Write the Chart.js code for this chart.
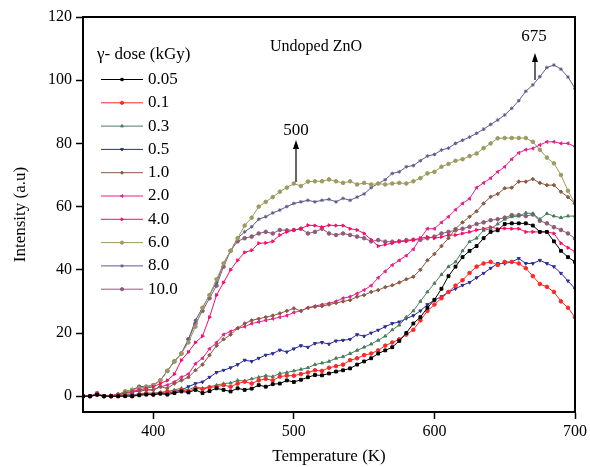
<!DOCTYPE html>
<html>
<head>
<meta charset="utf-8">
<script src="https://cdn.jsdelivr.net/npm/chart.js@4/dist/chart.umd.min.js"></script>
<style>
  body { margin: 0; background: #fff; }
  #box { width: 590px; height: 467px; }
</style>
</head>
<body>
<div id="box"><canvas id="myChart" width="590" height="467"></canvas></div>
<script>
// temperature (K)
var temps = [];
for (var t = 350; t <= 700; t += 5) temps.push(t);

var doses = ['0.05', '0.1', '0.3', '0.5', '1.0', '2.0', '4.0', '6.0', '8.0', '10.0'];
var xTicks = [400, 500, 600, 700];
var yTicks = [0, 20, 40, 60, 80, 100, 120];

// intensity, one value every 5 K from 350 to 700
var d005 = [0,0,0.5,0,0,0,0,0,0.3,0.5, 0.5,0.8,0.5,1,1.5,1.2,2,1,1.6,2.5,
  2,1.5,2.5,2,2.4,3.5,3,3.8,4,5, 4.5,5.2,6,6.7,6.6,7.2,7.8,8.2,8.8,10,
  11,12,13.5,14.5,15.5,17.5,20,23,25,28, 30.5,34,38,41,44,46,47.5,50,52,52.5,
  54.5,54.7,54.7,54.7,54,52,52,49,46,44,42.5];
var d01 = [0,0,0.5,0,0,0,0.3,0,0.5,0.8, 0.5,1,1.5,1.2,2,1.5,2.5,2.2,2.8,3,
  3.5,3,4,4.6,4,5,5.5,5,6.2,6.5, 6.5,7,7.5,8.2,8,9,9.5,10,11.4,12,
  13,13.5,14.5,16,17,18,19.5,21,24,27, 29,31,33,35,36.7,39,41,42,42.5,41.5,
  42.5,42.5,42,40.5,38,35.5,34.6,33,30,28,25];
var d03 = [0,0,0.5,0,0,0.3,0.5,0.3,0.8,1, 1,1.2,1.5,2,2.5,2,3,2.5,3,3.5,
  4,4.2,5,4.8,5.5,6,6.5,6.2,7.2,7.5, 8,8.5,9,10,10.5,11,12,12.5,13.5,14.5,
  15.5,16.5,17.7,19,21,22.5,25,27,30,33, 35.7,38.5,41,42.5,46,48.9,50,52.5,53,54.5,
  56,56.8,57,58,57.8,56,57.8,57,56.5,57,57];
var d05 = [0,0,0.3,0,0,0,0.3,0.5,0.3,1, 0.5,1,0.8,1.5,2,3,4,4.5,6,7.5,
  8.2,9,10,11.4,11,12,13,13.5,14.6,14, 15,16,15.5,16.7,17,16.5,17.5,17.7,18,19.5,
  19,20,20.9,22,23,23.5,24.6,25.5,27,29, 30.4,31.5,33,34,35.1,36,37.5,38.9,40.5,42,
  42,42.5,43.6,42,42,43,42,41,38.9,36.5,34];
var d10 = [0,0,0.5,0,0,0.5,1,1.5,1.5,2, 2,3,2.5,4,5,6,8.2,10,13,16,
  18,19.5,21.5,23,24,24.5,25,25.5,26.2,27, 27.8,27,28,28.3,28.5,29,29.5,30,30.4,31.5,
  32,33,33.6,34.5,35.1,36,37,37.8,40,43, 45,47.5,50,53,55,56.8,58.5,61,63.1,64,
  65.8,66,67.9,67.9,68.7,67.5,66.8,66.8,64.7,63,61];
var d20 = [0,0,0.5,0,0,0.5,1,1,2,2, 2,3,3.5,4.5,6,7,10.3,12,15,17,
  19.5,20.5,21.5,22,23,23.5,24,24.5,25,25.5, 26.5,27,28,28.5,29,29.4,30,31,31.5,32.5,
  33.6,35,37.5,39.5,41.5,43,44.5,46.5,50,53, 53,55,56.8,59,61,62.5,66,67.5,69,71,
  72.6,75,77,78,78.4,79.5,80.5,80.5,80,80,79];
var d40 = [0,0,0.5,0,0.3,0.5,1,1.5,2,2.5, 3,4,5,7,11.4,14,17,19,25,32,
  36,40,43,45.5,46.2,48.4,48.5,49,51,52, 52.6,53,54.1,54,53.5,54.1,54,54,53,52.6,
  51.5,49.5,47.5,48,48.4,49,49,49.5,50,50.4, 50,50.4,51,51,51.5,52,52.6,53,53.5,53,
  53.1,53,53,52,52,52,52,51.5,48.4,47,45.7];
var d60 = [0,0,0.5,0,0,0.5,1.5,2,2.5,3, 3.5,5,8,11,13.5,17,22,28,32,37,
  42,46,50,54,56.5,60,61.5,63,64.7,66, 67.3,66.5,67.9,68,68,68.6,68,67.5,68,67,
  67.5,67,67.3,67,67.3,67.5,67.3,68,69,70.5, 71,72.6,73.5,74.5,75,76,76.8,78.5,80,81.6,
  81.7,81.7,81.7,81.7,80.5,78,75.5,73.7,70,65,61];
var d80 = [0,0,0.5,0,0,0.5,1.5,2,3,3, 3.5,5,8,11,13.5,18,24,28,32,36,
  42,46,50,52,53.6,56,56.8,58,58.9,60, 61,61.5,62,61.5,62,62.3,61.5,62.6,62,63,
  64,66,67.3,68.5,70.5,71,72.6,73,74.5,76, 76.5,77.9,78.5,80,81,82,83.2,84.5,86,87.4,
  89,91.1,93.5,96.5,98.5,101.1,104,104.8,103.5,101,97.4];
var d100 = [0,0,1,0,0,0.5,1.5,2,3,3, 3.5,5,8,11,13.5,18,23,27,31,35,
  41,46,49,50,50.5,51.5,52,51.5,52.6,52.5, 52.6,53,51.5,52,53,51.5,51,51.5,51,50.5,
  50,49,49.4,48.9,48.9,49,49.4,49.5,49.5,50, 50.5,51.5,52,52.5,53,53.6,54.5,55,55.7,56,
  56.5,57.3,57.3,57,57.5,55.5,54.7,53.5,52.6,51.5,49.9];

var series = [d005, d01, d03, d05, d10, d20, d40, d60, d80, d100];
var colors = ['#000000', '#ff2626', '#4a7d5c', '#2c2c9c', '#8b5a44', '#e8208c', '#ff0a66', '#9c9a5c', '#5c5c8e', '#8e5a7a'];
var shapes = ['rect', 'circle', 'triangle', 'triangle', 'rectRot', 'triangle', 'triangle', 'circle', 'star', 'circle'];
var rotations = [0, 0, 0, 180, 0, -90, 90, 0, 0, 0];

var serif = "'Liberation Serif', 'Times New Roman', serif";

var datasets = series.map(function (s, i) {
  return {
    label: doses[i],
    data: s,
    borderColor: colors[i],
    backgroundColor: colors[i],
    borderWidth: 1,
    pointStyle: shapes[i],
    pointRotation: rotations[i],
    pointRadius: shapes[i] == 'rect' ? 2 : 1.8,
    pointBorderWidth: 1,
    tension: 0
  };
});

// legend, labels, arrows and frame
var extras = {
  id: 'extras',
  afterDraw: function (chart) {
    var ctx = chart.ctx;
    var a = chart.chartArea;
    ctx.save();
    ctx.strokeStyle = '#000';
    ctx.lineWidth = 2;
    ctx.strokeRect(a.left, a.top, a.right - a.left, a.bottom - a.top);

    ctx.fillStyle = '#000';
    ctx.font = '17px ' + serif;
    ctx.textBaseline = 'middle';
    ctx.textAlign = 'left';
    ctx.fillText('γ- dose (kGy)', 97, 55);
    for (var i = 0; i < doses.length; i++) {
      var y = 79.5 + i * 23.3;
      ctx.strokeStyle = colors[i];
      ctx.fillStyle = colors[i];
      ctx.lineWidth = 1;
      ctx.beginPath();
      ctx.moveTo(101, y);
      ctx.lineTo(143, y);
      ctx.stroke();
      Chart.helpers.drawPoint(ctx, {
        pointStyle: shapes[i], radius: 1.6, rotation: rotations[i], borderWidth: 1
      }, 122, y);
      ctx.fillStyle = '#000';
      ctx.fillText(doses[i], 148, y);
    }

    ctx.fillStyle = '#000';
    ctx.font = '16px ' + serif;
    ctx.fillText('Undoped ZnO', 270, 47);
    ctx.font = '17px ' + serif;
    ctx.textAlign = 'center';
    ctx.fillText('675', 534, 37);
    ctx.fillText('500', 296, 131);

    function arrow(x, y0, y1) {
      ctx.strokeStyle = '#000';
      ctx.fillStyle = '#000';
      ctx.lineWidth = 1.2;
      ctx.beginPath();
      ctx.moveTo(x, y0);
      ctx.lineTo(x, y1 + 6);
      ctx.stroke();
      ctx.beginPath();
      ctx.moveTo(x, y1);
      ctx.lineTo(x - 3, y1 + 9);
      ctx.lineTo(x + 3, y1 + 9);
      ctx.closePath();
      ctx.fill();
    }
    arrow(535, 80, 53);
    arrow(296, 182, 140);
    ctx.restore();
  }
};

var ctx = document.getElementById('myChart').getContext('2d');
var myChart = new Chart(ctx, {
  type: 'line',
  data: { labels: temps, datasets: datasets },
  options: {
    responsive: false,
    animation: false,
    layout: { padding: { top: 17, right: 12, left: 0, bottom: 0 } },
    plugins: { legend: { display: false }, tooltip: { enabled: false } },
    scales: {
      x: {
        type: 'linear',
        min: 350,
        max: 700,
        afterBuildTicks: function (s) { s.ticks = xTicks.map(function (v) { return { value: v }; }); },
        afterFit: function (s) { s.height = 55; },
        grid: { drawOnChartArea: false, tickLength: 7, color: '#000', tickWidth: 1.5 },
        border: { color: '#000', width: 2 },
        ticks: { color: '#000', font: { family: serif, size: 16 }, padding: 3, maxRotation: 0 },
        title: { display: true, text: 'Temperature (K)', color: '#000', font: { family: serif, size: 17 }, padding: { top: 0, bottom: 0 } }
      },
      y: {
        min: -5,
        max: 120,
        afterBuildTicks: function (s) { s.ticks = yTicks.map(function (v) { return { value: v }; }); },
        afterFit: function (s) { s.width = 83; },
        grid: { drawOnChartArea: false, tickLength: 7, color: '#000', tickWidth: 1.5 },
        border: { color: '#000', width: 2 },
        ticks: { color: '#000', font: { family: serif, size: 16 }, padding: 4 },
        title: { display: true, text: 'Intensity (a.u)', color: '#000', font: { family: serif, size: 17 }, padding: { top: 10, bottom: 0 } }
      }
    }
  },
  plugins: [extras]
});
</script>
</body>
</html>
